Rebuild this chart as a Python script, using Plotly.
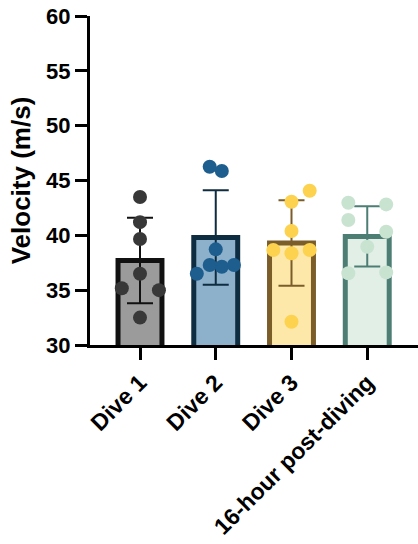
import plotly.graph_objects as go

categories = ["Dive 1", "Dive 2", "Dive 3", "16-hour post-diving"]
means = [37.7, 39.8, 39.3, 39.9]
sds = [3.9, 4.3, 3.9, 2.75]

dive1 = [43.5, 41.2, 39.66, 36.5, 35.17, 35.0, 32.5]
dive2 = [46.25, 45.86, 38.72, 37.29, 37.14, 37.29, 36.5]
dive3 = [43.06, 44.07, 40.4, 38.66, 38.36, 38.66, 32.12]
post16 = [42.97, 42.82, 41.4, 40.33, 38.96, 36.54, 36.62]
points = [dive1, dive2, dive3, post16]

jitter1 = [0, 0, 0, 0, -0.24, 0.25, 0]
jitter2 = [-0.08, 0.08, 0, -0.08, 0.08, 0.24, -0.25]
jitter3 = [0, 0.24, 0, -0.24, 0, 0.24, 0]
jitter4 = [-0.25, 0.25, -0.25, 0.25, 0, -0.25, 0.25]
jitters = [jitter1, jitter2, jitter3, jitter4]

fills = ["#9b9b9b", "#8db0cb", "#fde8a9", "#e2efe6"]
borders = ["#111111", "#0f2d40", "#7b5d2a", "#4c7e74"]
dots = ["#383838", "#1e5e8e", "#fcd24e", "#c9e3d1"]

FONT = "Liberation Sans, Arial, sans-serif"

fig = go.Figure()
xs = list(range(len(categories)))
fig.add_trace(go.Bar(
    x=xs, y=means, width=0.58,
    marker=dict(color=fills, line=dict(color=borders, width=5)),
    showlegend=False, hoverinfo="skip"))

for i in xs:
    fig.add_trace(go.Scatter(
        x=[i], y=[means[i]], mode="markers",
        marker=dict(size=1, opacity=0),
        error_y=dict(type="data", array=[sds[i]], color=borders[i], thickness=2, width=13),
        showlegend=False, hoverinfo="skip"))

for i in xs:
    fig.add_trace(go.Scatter(
        x=[i + j for j in jitters[i]], y=points[i], mode="markers",
        marker=dict(size=14, color=dots[i], line=dict(width=0)),
        showlegend=False, cliponaxis=False))

fig.update_layout(
    width=418, height=544,
    margin=dict(l=90, r=0, t=16, b=199),
    paper_bgcolor="white", plot_bgcolor="white",
    font=dict(family=FONT, color="black"),
    xaxis=dict(range=[-0.66, 3.67], tickmode="array", tickvals=xs, ticktext=categories,
               tickangle=-45, showline=True, linecolor="black", linewidth=3,
               ticks="outside", ticklen=12, tickwidth=3, tickcolor="black",
               showgrid=False, zeroline=False,
               tickfont=dict(size=23, family=FONT, weight="bold")),
    yaxis=dict(range=[30, 60], dtick=5, showline=True, linecolor="black", linewidth=3,
               ticks="outside", ticklen=12, tickwidth=3, tickcolor="black",
               showgrid=False, zeroline=False,
               tickfont=dict(size=22, family=FONT, weight="bold"),
               title=dict(text="Velocity (m/s)", font=dict(size=26, family=FONT, weight="bold"),
                          standoff=9)),
    bargap=0.4,
)

fig.write_html("out.html")
